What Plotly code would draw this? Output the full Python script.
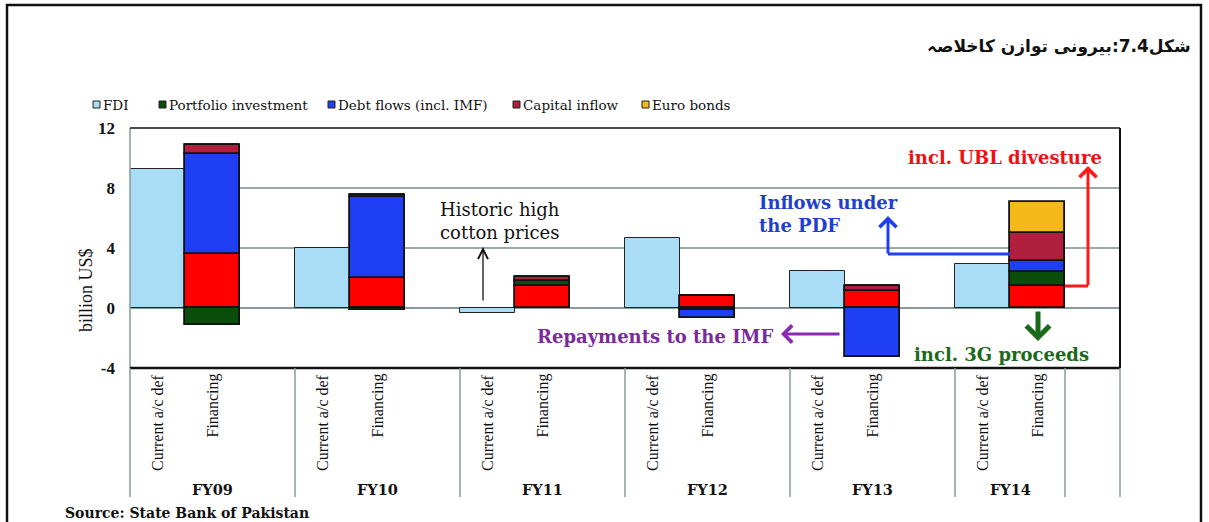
import plotly.graph_objects as go

# ---- data (billion US$) ----
years = ["FY09", "FY10", "FY11", "FY12", "FY13", "FY14"]
bar_labels = ["Current a/c def", "Financing"]
current_ac_def = [9.25, 4.0, -0.35, 4.65, 2.45, 2.95]
fdi = [3.6, 2.0, 1.5, 0.8, 1.15, 1.5]
portfolio = [-1.1, -0.1, 0.3, -0.1, 0.0, 0.9]
debt_flows = [6.7, 5.4, 0.0, -0.55, -3.25, 0.75]
capital_inflow = [0.55, 0.15, 0.25, 0.0, 0.35, 1.85]
euro_bonds = [0.0, 0.0, 0.0, 0.0, 0.0, 2.05]
y_ticks = [12, 8, 4, 0, -4]

legend_items = ["FDI", "Portfolio investment", "Debt flows (incl. IMF)", "Capital inflow", "Euro bonds"]
legend_colors = ["#a9dcf5", "#0b4d0b", "#1f3ff5", "#b0203e", "#f4b818"]

C_CUR = "#a9dcf5"
C_FDI = "#ff0000"
C_PORT = "#0b4d0b"
C_DEBT = "#1f3ff5"
C_CAP = "#b0203e"
C_EURO = "#f4b818"

SERIF = "Liberation Serif"
WIDE = "DejaVu Serif"

W, H = 1209, 522
L, R, T, B = 130, 1120, 128, 368   # plot area in pixels
N_CAT = 18                          # 3 slots per year, last slot left empty


def px(xp):
    return (xp - L) / (R - L)


def py(yp):
    return (B - yp) / (B - T)


x_cur = [3 * i + 0.5 for i in range(len(years))]
x_fin = [3 * i + 1.5 for i in range(len(years))]

fig = go.Figure()

fig.add_trace(go.Bar(x=x_cur, y=current_ac_def, width=1.0, marker_color=C_CUR,
                     marker_line=dict(color="#222", width=1), showlegend=False,
                     name="Current a/c def"))
for vals, col, nm in [(fdi, C_FDI, "FDI"), (portfolio, C_PORT, "Portfolio investment"),
                      (debt_flows, C_DEBT, "Debt flows (incl. IMF)"),
                      (capital_inflow, C_CAP, "Capital inflow"), (euro_bonds, C_EURO, "Euro bonds")]:
    fig.add_trace(go.Bar(x=x_fin, y=vals, width=1.0, marker_color=col,
                         marker_line=dict(color="#111", width=1.8), showlegend=False, name=nm))

shapes = []
annotations = []

# plot frame: grey left edge, black top/right/bottom
shapes.append(dict(type="line", xref="paper", yref="paper", x0=0, x1=0, y0=0, y1=1,
                   line=dict(color="#8a9a9a", width=1.5)))
shapes.append(dict(type="line", xref="paper", yref="paper", x0=0, x1=1, y0=1, y1=1,
                   line=dict(color="#111", width=1.5)))
shapes.append(dict(type="line", xref="paper", yref="paper", x0=1, x1=1, y0=0, y1=1,
                   line=dict(color="#111", width=2)))
shapes.append(dict(type="line", xref="paper", yref="paper", x0=0, x1=1, y0=0, y1=0,
                   line=dict(color="#111", width=2.5)))

# category separators below the axis
for k in [0, 3, 6, 9, 12, 15, 17, 18]:
    xp = L + (R - L) * k / N_CAT
    shapes.append(dict(type="line", xref="paper", yref="paper", x0=px(xp), x1=px(xp),
                       y0=py(368), y1=py(497), line=dict(color="#8a9a9a", width=1.5)))

# outer border
shapes.append(dict(type="rect", xref="paper", yref="paper", x0=px(7), x1=px(1201),
                   y0=py(530), y1=py(5), line=dict(color="#111", width=2.5)))

# category labels
for i, yr in enumerate(years):
    for j, lab in enumerate(bar_labels):
        annotations.append(dict(x=3 * i + 0.5 + j, y=py(372), xref="x", yref="paper",
                                text=lab, textangle=-90, showarrow=False,
                                xanchor="center", yanchor="top",
                                font=dict(family=SERIF, size=16, color="#111")))
    x_center = 3 * i + (1.0 if i == len(years) - 1 else 1.5)
    annotations.append(dict(x=x_center, y=py(489), xref="x", yref="paper", text="<b>%s</b>" % yr,
                            showarrow=False, xanchor="center", yanchor="middle",
                            font=dict(family=WIDE, size=14.5, color="#111")))

# legend
leg_x = [93, 159, 328, 513, 642]
for xp, name, col in zip(leg_x, legend_items, legend_colors):
    shapes.append(dict(type="rect", xref="paper", yref="paper", x0=px(xp), x1=px(xp + 7),
                       y0=py(108), y1=py(101), fillcolor=col, line=dict(color="#222", width=1)))
    annotations.append(dict(x=px(xp + 8), y=py(104.5), xref="paper", yref="paper", text=name,
                            showarrow=False, xanchor="left", yanchor="middle",
                            font=dict(family=WIDE, size=13.5, color="#111")))

# title
annotations.append(dict(x=px(1193), y=py(46), xref="paper", yref="paper",
                        text="<b>شکل7.4:بیرونی توازن کاخلاصہ</b>", showarrow=False,
                        xanchor="right", yanchor="middle",
                        font=dict(family="DejaVu Sans", size=17, color="#111")))

# y-axis title
annotations.append(dict(x=px(86), y=py(290), xref="paper", yref="paper", text="billion US$",
                        textangle=-90, showarrow=False, xanchor="center", yanchor="middle",
                        font=dict(family=SERIF, size=18, color="#111")))

# source
annotations.append(dict(x=px(63), y=py(513), xref="paper", yref="paper",
                        text="<b>Source: State Bank of Pakistan</b>", showarrow=False,
                        xanchor="left", yanchor="middle",
                        font=dict(family=WIDE, size=14, color="#111")))


def dx(xp):
    return (xp - L) / (R - L) * N_CAT


def dy(yp):
    return 12 - (yp - T) / (B - T) * 16


# callouts
annotations.append(dict(x=dx(500), y=dy(221), text="Historic high<br>cotton prices", showarrow=False,
                        xanchor="center", yanchor="middle", align="center",
                        font=dict(family=WIDE, size=18, color="#111")))
annotations.append(dict(x=dx(483), y=dy(247), ax=dx(483), ay=dy(302), axref="x", ayref="y",
                        text="", showarrow=True, arrowhead=5, arrowsize=1.5, arrowwidth=1.3,
                        arrowcolor="#111"))

annotations.append(dict(x=dx(757), y=dy(214), text="<b>Inflows under<br>the PDF</b>", showarrow=False,
                        xanchor="left", yanchor="middle", align="left",
                        font=dict(family=WIDE, size=18, color="#1f3fd0")))
shapes.append(dict(type="line", xref="x", yref="y", x0=dx(1010), x1=dx(888), y0=dy(254), y1=dy(254),
                   line=dict(color="#1f3ff5", width=3)))
annotations.append(dict(x=dx(888), y=dy(216), ax=dx(888), ay=dy(255), axref="x", ayref="y",
                        text="", showarrow=True, arrowhead=4, arrowsize=1.1, arrowwidth=3,
                        arrowcolor="#1f3ff5"))

annotations.append(dict(x=dx(1005), y=dy(157), text="<b>incl. UBL divesture</b>", showarrow=False,
                        xanchor="center", yanchor="middle",
                        font=dict(family=WIDE, size=18, color="#ee1111")))
shapes.append(dict(type="line", xref="x", yref="y", x0=dx(1065), x1=dx(1088), y0=dy(286), y1=dy(286),
                   line=dict(color="#ff1a1a", width=3)))
annotations.append(dict(x=dx(1088), y=dy(166), ax=dx(1088), ay=dy(287), axref="x", ayref="y",
                        text="", showarrow=True, arrowhead=4, arrowsize=1.1, arrowwidth=3,
                        arrowcolor="#ff1a1a"))

annotations.append(dict(x=dx(655), y=dy(336), text="<b>Repayments to the IMF</b>", showarrow=False,
                        xanchor="center", yanchor="middle",
                        font=dict(family=WIDE, size=18, color="#7a2a9c")))
annotations.append(dict(x=dx(781), y=dy(334), ax=dx(841), ay=dy(334), axref="x", ayref="y",
                        text="", showarrow=True, arrowhead=4, arrowsize=1.1, arrowwidth=3,
                        arrowcolor="#8a2ab0"))

annotations.append(dict(x=dx(1001), y=dy(354), text="<b>incl. 3G proceeds</b>", showarrow=False,
                        xanchor="center", yanchor="middle",
                        font=dict(family=WIDE, size=18, color="#1a6a1a")))
annotations.append(dict(x=dx(1038), y=dy(341), ax=dx(1038), ay=dy(310), axref="x", ayref="y",
                        text="", showarrow=True, arrowhead=4, arrowsize=0.9, arrowwidth=5,
                        arrowcolor="#1a6a1a"))

fig.update_layout(
    width=W, height=H,
    margin=dict(l=L, r=W - R, t=T, b=H - B),
    paper_bgcolor="white", plot_bgcolor="white",
    barmode="relative", bargap=0,
    showlegend=False,
    xaxis=dict(range=[0, N_CAT], showticklabels=False, showgrid=False, zeroline=False,
               fixedrange=True),
    yaxis=dict(range=[-4, 12], tickvals=y_ticks, ticktext=["<b>%d</b>" % v for v in y_ticks],
               showgrid=True, gridcolor="#9aaaaa", gridwidth=1.5,
               zeroline=True, zerolinecolor="#8a9a9a", zerolinewidth=2,
               ticks="", ticklabelstandoff=14,
               tickfont=dict(family=SERIF, size=17, color="#111"), fixedrange=True),
    shapes=shapes,
    annotations=annotations,
)

fig.write_html("out.html")
